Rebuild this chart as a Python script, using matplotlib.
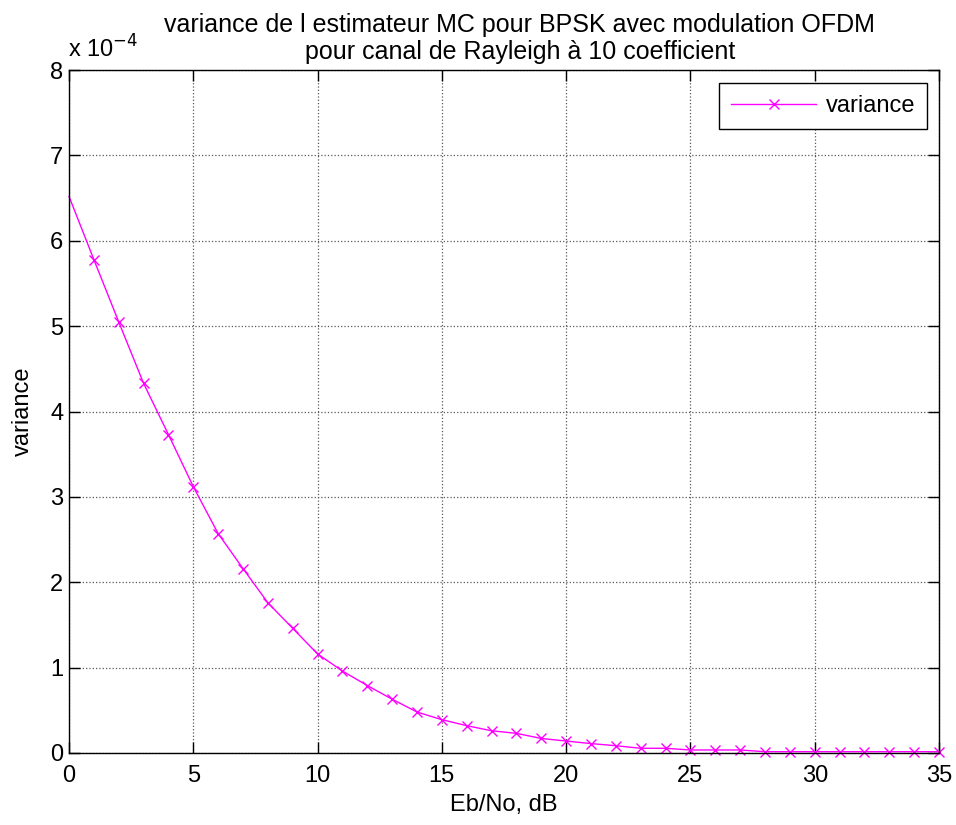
import matplotlib
matplotlib.use('Agg')
import matplotlib.pyplot as plt
from matplotlib.ticker import FuncFormatter

plt.rcParams['font.family'] = ['Liberation Sans', 'DejaVu Sans']

# Eb/No values (dB) and variance of the MC estimator
ebno = list(range(0, 36))
variance = [6.52, 5.78, 5.05, 4.33, 3.73, 3.12, 2.57, 2.16, 1.76, 1.46,
            1.16, 0.96, 0.79, 0.63, 0.48, 0.39, 0.32, 0.26, 0.23, 0.17,
            0.14, 0.11, 0.085, 0.055, 0.055, 0.035, 0.035, 0.035, 0.015, 0.015,
            0.015, 0.015, 0.015, 0.015, 0.015, 0.015]
variance = [v * 1e-4 for v in variance]

xticks = [0, 5, 10, 15, 20, 25, 30, 35]
yticks = [i * 1e-4 for i in range(9)]

fig = plt.figure(figsize=(9.56, 8.25), dpi=100)
ax = fig.add_axes([0.0722, 0.0873, 0.9100, 0.8277])

# no marker visible on the first point in the original
ax.plot(ebno, variance, color='#ff00ff', marker='x', markersize=6.5,
        markevery=slice(1, None), linewidth=1, label='variance', clip_on=False)

ax.set_xlim(0, 35)
ax.set_ylim(0, 8e-4)
ax.set_xticks(xticks)
ax.set_yticks(yticks)
ax.yaxis.set_major_formatter(FuncFormatter(lambda v, p: '%g' % round(v / 1e-4, 6)))
ax.tick_params(direction='in', length=8, width=1, top=True, right=True,
               labelsize=17)
ax.tick_params(axis='x', pad=9)
ax.tick_params(axis='y', pad=4)
ax.grid(True, linestyle=':', color='0.35', linewidth=0.9)
for s in ax.spines.values():
    s.set_linewidth(1)

ax.text(-0.05, 8.15e-4, 'x 10$^{-4}$', fontsize=17, ha='left', va='baseline')

ax.set_title('variance de l estimateur MC pour BPSK avec modulation OFDM\n'
             'pour canal de Rayleigh à 10 coefficient', fontsize=18,
             linespacing=1.15, pad=8, x=0.518)
ax.set_xlabel('Eb/No, dB', fontsize=17, labelpad=5)
ax.set_ylabel('variance', fontsize=17, labelpad=12)

leg = ax.legend(loc='upper right', fontsize=17, fancybox=False,
                edgecolor='black', framealpha=1, handlelength=3.6,
                handletextpad=0.4, borderpad=0.5, borderaxespad=0,
                bbox_to_anchor=(0.986, 0.981))
leg.get_frame().set_linewidth(1)

fig.savefig('out.png', dpi=100)
